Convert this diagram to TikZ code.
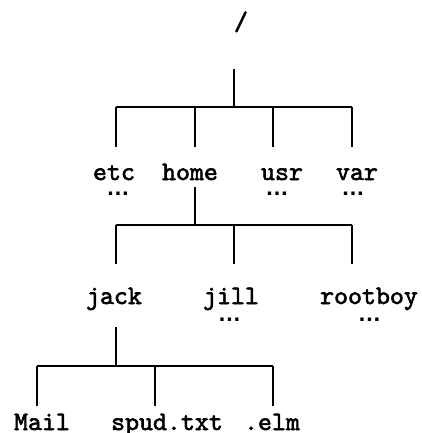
\documentclass[tikz,border=0pt]{standalone}
\usepackage{fontspec}
\newfontfamily\dotsfont{Liberation Sans}
\newfontfamily\codefont{lmmono10-regular}[Extension=.otf, FakeBold=2.2]
\begin{document}
\begin{tikzpicture}[x=0.5pt,y=-0.5pt,
  lbl/.style={font=\codefont\fontsize{13.3}{15}\selectfont, inner sep=0pt, anchor=base},
  more/.style={font=\dotsfont\bfseries\fontsize{11.7}{13}\selectfont, inner sep=0pt, anchor=base, text height=1.6pt, text depth=0pt},
  conn/.style={line width=1.35pt, line cap=butt}]
\useasboundingbox (0,0) rectangle (422,433);
% labels
\node[lbl] (root) at (241,30) {/};
\node[lbl] (etc) at (114,180) {etc};
\node[lbl] (home) at (190,180) {home};
\node[lbl] (usr) at (282,180) {usr};
\node[lbl] (var) at (357,180) {var};
\node[more] (etcm) at (118,195) {…};
\node[more] (usrm) at (277,195) {…};
\node[more] (varm) at (353,195) {…};
\node[lbl] (jack) at (114,304) {jack};
\node[lbl] (jill) at (231,304) {jill};
\node[lbl] (rootboy) at (369,304) {rootboy};
\node[more] (jillm) at (229.5,321) {…};
\node[more] (rootboym) at (369.5,321) {…};
\node[lbl] (mail) at (42,430) {Mail};
\node[lbl] (spud) at (167,430) {spud.txt};
\node[lbl] (elm) at (272,430) {.elm};
% connector points
\coordinate (r0) at (234,69);
\coordinate (r1) at (234,107);
\coordinate (b1l) at (116,107);
\coordinate (b1r) at (352,107);
\coordinate (etct) at (116,147);
\coordinate (homet) at (195,147);
\coordinate (usrt) at (273,147);
\coordinate (vart) at (352,147);
\coordinate (h0) at (195,187);
\coordinate (h1) at (195,225);
\coordinate (b2l) at (116,225);
\coordinate (b2r) at (352,225);
\coordinate (jackt) at (116,264);
\coordinate (jillt) at (234,264);
\coordinate (rootboyt) at (352,264);
\coordinate (j0) at (116,327);
\coordinate (j1) at (116,366);
\coordinate (b3l) at (37,366);
\coordinate (b3r) at (273,366);
\coordinate (mailt) at (37,406);
\coordinate (spudt) at (155,406);
\coordinate (elmt) at (273,406);
% connectors
\draw[conn] (r0) -- (r1);
\draw[conn] (b1l) -- (b1r);
\draw[conn] (b1l) -- (etct);
\draw[conn] (homet |- b1l) -- (homet);
\draw[conn] (usrt |- b1l) -- (usrt);
\draw[conn] (b1r) -- (vart);
\draw[conn] (h0) -- (h1);
\draw[conn] (b2l) -- (b2r);
\draw[conn] (b2l) -- (jackt);
\draw[conn] (jillt |- b2l) -- (jillt);
\draw[conn] (b2r) -- (rootboyt);
\draw[conn] (j0) -- (j1);
\draw[conn] (b3l) -- (b3r);
\draw[conn] (b3l) -- (mailt);
\draw[conn] (spudt |- b3l) -- (spudt);
\draw[conn] (b3r) -- (elmt);
\end{tikzpicture}
\end{document}
